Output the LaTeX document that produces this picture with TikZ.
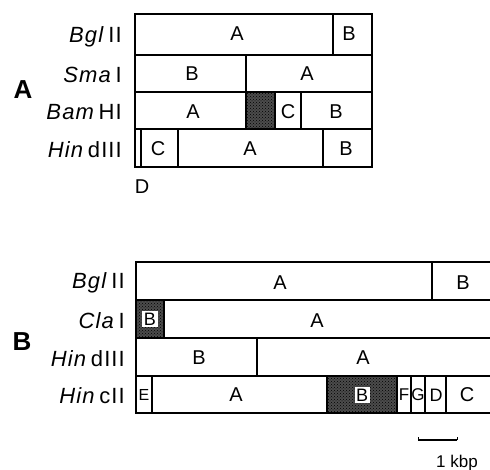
\documentclass[tikz,border=0pt]{standalone}
\usepackage{fontspec}
\setmainfont{Liberation Sans}
\newfontfamily\enzfont[LetterSpace=5]{Liberation Sans}
\usetikzlibrary{patterns}
\tikzset{
  frag/.style={line width=1.5pt},
  hatch/.style={fill=black!70, postaction={pattern=crosshatch dots, pattern color=black}},
  lbl/.style={font=\fontsize{20}{20}\selectfont, inner sep=0pt},
  enz/.style={font=\enzfont\fontsize{22}{22}\selectfont, inner sep=0pt, anchor=east},
  big/.style={font=\fontsize{26}{26}\selectfont\bfseries, inner sep=0pt},
  wbox/.style={fill=white, inner sep=1.5pt, font=\fontsize{18}{18}\selectfont}
}
\begin{document}
\begin{tikzpicture}[x=1pt,y=-1pt]
\useasboundingbox (0,0) rectangle (490,470);
% ---------------- Part A ----------------
\fill[hatch] (246,92) rectangle (275,129);
\draw[frag] (135,14) rectangle (372,167);
\draw[frag] (135,55) -- (372,55);
\draw[frag] (135,92) -- (372,92);
\draw[frag] (135,129) -- (372,129);
\draw[frag] (333,14) -- (333,55);
\draw[frag] (246,55) -- (246,92);
\draw[frag] (246,92) -- (246,129);
\draw[frag] (275,92) -- (275,129);
\draw[frag] (301,92) -- (301,129);
\draw[frag] (141,129) -- (141,167);
\draw[frag] (178,129) -- (178,167);
\draw[frag] (323,129) -- (323,167);
\node[big] (bigA) at (23,90) {A};
\node[enz] (eA1) at (122,37) {\textit{Bgl}\,II};
\node[enz] (eA2) at (122,75) {\textit{Sma}\,I};
\node[enz] (eA3) at (122,112) {\textit{Bam}\,HI};
\node[enz] (eA4) at (122,150) {\textit{Hin}\,dIII};
\node[lbl] (a11) at (237,34) {A};
\node[lbl] (a12) at (349,34) {B};
\node[lbl] (a21) at (192,74) {B};
\node[lbl] (a22) at (307,74) {A};
\node[lbl] (a31) at (193,112) {A};
\node[lbl] (a32) at (288,112) {C};
\node[lbl] (a33) at (336,112) {B};
\node[lbl] (a41) at (158,149) {C};
\node[lbl] (a42) at (250,149) {A};
\node[lbl] (a43) at (346,149) {B};
\node[lbl] (a4d) at (142,187) {D};
% ---------------- Part B ----------------
\fill[hatch] (136,300) rectangle (164,338);
\fill[hatch] (327,376) rectangle (397,413);
\draw[frag] (490,262) -- (136,262) -- (136,413) -- (490,413);
\draw[frag] (136,300) -- (490,300);
\draw[frag] (136,338) -- (490,338);
\draw[frag] (136,376) -- (490,376);
\draw[frag] (432,262) -- (432,300);
\draw[frag] (164,300) -- (164,338);
\draw[frag] (257,338) -- (257,376);
\draw[frag] (152,376) -- (152,413);
\draw[frag] (327,376) -- (327,413);
\draw[frag] (397,376) -- (397,413);
\draw[frag] (411,376) -- (411,413);
\draw[frag] (425,376) -- (425,413);
\draw[frag] (446,376) -- (446,413);
\node[big] (bigB) at (22,342) {B};
\node[enz] (eB1) at (125,283) {\textit{Bgl}\,II};
\node[enz] (eB2) at (125,321) {\textit{Cla}\,I};
\node[enz] (eB3) at (125,359) {\textit{Hin}\,dIII};
\node[enz] (eB4) at (125,396) {\textit{Hin}\,cII};
\node[lbl] (b11) at (280,283) {A};
\node[lbl] (b12) at (463,283) {B};
\node[wbox] (b21) at (150,319) {B};
\node[lbl] (b22) at (317,321) {A};
\node[lbl] (b31) at (199,358) {B};
\node[lbl] (b32) at (363,358) {A};
\node[lbl, font=\fontsize{16}{16}\selectfont] (b41) at (144,395) {E};
\node[lbl] (b42) at (236,395) {A};
\node[wbox] (b43) at (362,395) {B};
\node[lbl, font=\fontsize{17}{17}\selectfont] (b44) at (404,395) {F};
\node[lbl, font=\fontsize{17}{17}\selectfont] (b45) at (418,395) {G};
\node[lbl, font=\fontsize{18}{18}\selectfont] (b46) at (436,395) {D};
\node[lbl] (b47) at (467,395) {C};
% scale bar
\coordinate (s1) at (418,440);
\coordinate (s2) at (457,440);
\draw[line width=1.8pt] (s1) -- (s2);
\draw[line width=1pt] (s1) -- ++(0,-3);
\draw[line width=1pt] (s2) -- ++(0,-3);
\node[font=\fontsize{17}{17}\selectfont, inner sep=0pt] (kbp) at (457,463) {1 kbp};
\end{tikzpicture}
\end{document}
